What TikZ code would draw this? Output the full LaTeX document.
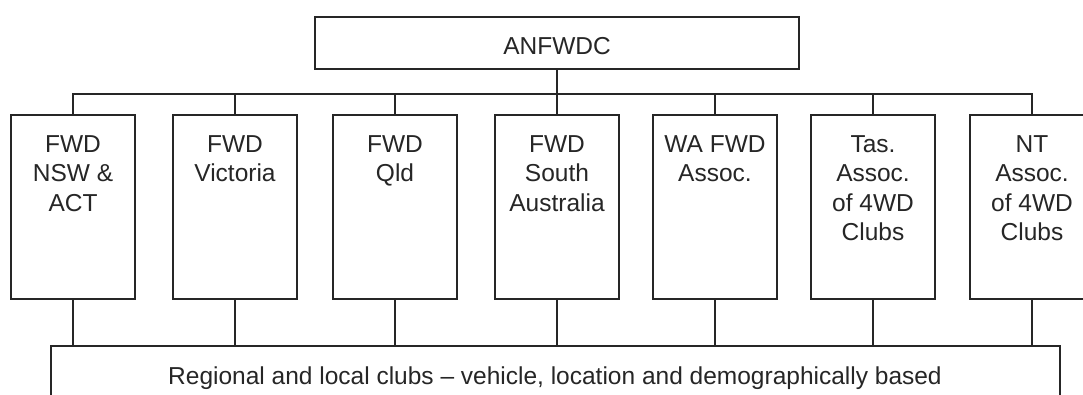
\documentclass[tikz,border=0pt]{standalone}
\usepackage{fontspec}
\setmainfont{Liberation Sans}
\begin{document}
\begin{tikzpicture}[x=1pt,y=1pt,
  ln/.style={draw=black!85, line width=1.9pt},
  box/.style={ln, fill=white, minimum width=124pt, minimum height=184pt, inner sep=0pt},
  lbl/.style={anchor=north, align=center, inner sep=0pt, text=black!85,
     font=\fontsize{24.5}{29.5}\selectfont}
]
\useasboundingbox (0,0) rectangle (1083,-395);
\clip (0,0) rectangle (1083,-395);

% top box
\node[ln, minimum width=484pt, minimum height=52pt, inner sep=0pt] (top) at (557,-43) {};
\node[lbl] (toplbl) at (557,-37) {ANFWDC};

% state boxes
\node[box] (b1) at (73,-207) {};
\node[box] (b2) at (235,-207) {};
\node[box] (b3) at (395,-207) {};
\node[box] (b4) at (557,-207) {};
\node[box] (b5) at (715,-207) {};
\node[box] (b6) at (873,-207) {};
\node[box] (b7) at (1032,-207) {};

\node[lbl] (l1) at (73,-135) {FWD\\NSW \&\\ACT};
\node[lbl] (l2) at (235,-135) {FWD\\Victoria};
\node[lbl] (l3) at (395,-135) {FWD\\Qld};
\node[lbl] (l4) at (557,-135) {FWD\\South\\Australia};
\node[lbl] (l5) at (715,-135) {WA FWD\\Assoc.};
\node[lbl] (l6) at (873,-135) {Tas.\\Assoc.\\of 4WD\\Clubs};
\node[lbl] (l7) at (1032,-135) {NT\\Assoc.\\of 4WD\\Clubs};

% bottom box
\node[ln, minimum width=1009pt, minimum height=80pt, inner sep=0pt] (bot) at (555.5,-386) {};
\node[lbl, anchor=base] (botlbl) at (555,-384) {Regional and local clubs -- vehicle, location and demographically based};

% connectors
\coordinate (bus) at (0,-94);
\draw[ln] (top.south) -- (top.south |- bus);
\foreach \b in {b1,b2,b3,b4,b5,b6,b7}{
  \draw[ln] (top.south |- bus) -| (\b.north);
  \draw[ln] (\b.south) -- (\b.south |- bot.north);
}
\end{tikzpicture}
\end{document}
